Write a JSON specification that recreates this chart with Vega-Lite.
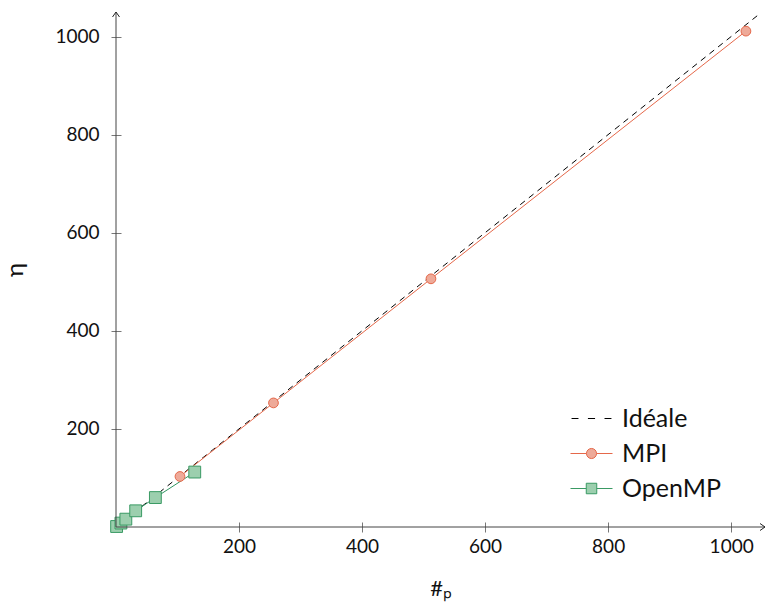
{
  "$schema": "https://vega.github.io/schema/vega-lite/v6.json",
  "width": 649,
  "height": 515,
  "autosize": {"type": "none"},
  "padding": {"left": 116, "top": 12, "right": 3, "bottom": 78},
  "background": "white",
  "config": {
    "view": {"stroke": null},
    "font": "Lato",
    "axis": {"grid": false, "labelColor": "#111", "titleColor": "#111", "tickColor": "#777", "titleFontWeight": "normal"},
    "legend": {"labelFont": "Lato"}
  },
  "datasets": {
    "ideal": [
      {"p": 0, "eta": 0},
      {"p": 1045, "eta": 1045}
    ],
    "measures": [
      {"series": "MPI", "p": 104, "eta": 103},
      {"series": "MPI", "p": 256, "eta": 253},
      {"series": "MPI", "p": 512, "eta": 506},
      {"series": "MPI", "p": 1024, "eta": 1011},
      {"series": "OpenMP", "p": 1, "eta": 1},
      {"series": "OpenMP", "p": 8, "eta": 8},
      {"series": "OpenMP", "p": 16, "eta": 16},
      {"series": "OpenMP", "p": 32, "eta": 33},
      {"series": "OpenMP", "p": 64, "eta": 60},
      {"series": "OpenMP", "p": 128, "eta": 112}
    ],
    "origin": [{"v": 0}],
    "xarrow": [{"p": 1055, "eta": 0}],
    "yarrow": [{"p": 0, "eta": 1050}]
  },
  "layer": [
    {
      "data": {"name": "ideal"},
      "mark": {"type": "line", "stroke": "#000", "strokeDash": [6, 5], "strokeWidth": 1},
      "encoding": {
        "x": {
          "field": "p", "type": "quantitative",
          "scale": {"domain": [0, 1055], "nice": false, "zero": false},
          "axis": {
            "values": [200, 400, 600, 800, 1000], "format": "d", "domain": false, "tickSize": 10, "offset": -5,
            "labelFontSize": 19, "labelPadding": 5, "labelFlush": false,
            "title": "#ₚ", "titleFontSize": 22, "titlePadding": 22
          }
        },
        "y": {
          "field": "eta", "type": "quantitative",
          "scale": {"domain": [0, 1050], "nice": false, "zero": false},
          "axis": {
            "values": [200, 400, 600, 800, 1000], "format": "d", "domain": false, "tickSize": 10, "offset": -5,
            "labelFontSize": 19, "labelPadding": 12, "labelFlush": false,
            "title": "η", "titleFontSize": 24, "titlePadding": 27
          }
        }
      }
    },
    {
      "data": {"name": "measures"},
      "mark": {"type": "line", "strokeWidth": 1},
      "encoding": {
        "x": {"field": "p", "type": "quantitative"},
        "y": {"field": "eta", "type": "quantitative"},
        "color": {
          "field": "series", "type": "nominal",
          "scale": {"domain": ["MPI", "OpenMP"], "range": ["#e5684a", "#2f9460"]},
          "legend": null
        }
      }
    },
    {
      "data": {"name": "measures"},
      "transform": [{"filter": "datum.series == 'MPI'"}],
      "mark": {"type": "point", "shape": "circle", "filled": true, "opacity": 1, "strokeWidth": 1, "size": 95},
      "encoding": {
        "x": {"field": "p", "type": "quantitative"},
        "y": {"field": "eta", "type": "quantitative"},
        "fill": {
          "field": "series", "type": "nominal",
          "scale": {"domain": ["Idéale", "MPI", "OpenMP"], "range": ["transparent", "#eeaa99", "#9ccfae"]}
        },
        "stroke": {
          "field": "series", "type": "nominal",
          "scale": {"domain": ["Idéale", "MPI", "OpenMP"], "range": ["#000000", "#e5684a", "#3a9a64"]}
        }
      }
    },
    {
      "data": {"name": "measures"},
      "transform": [{"filter": "datum.series == 'OpenMP'"}],
      "mark": {"type": "point", "shape": "square", "filled": true, "opacity": 1, "strokeWidth": 1, "size": 140},
      "encoding": {
        "x": {"field": "p", "type": "quantitative"},
        "y": {"field": "eta", "type": "quantitative"},
        "fill": {"field": "series", "type": "nominal"},
        "stroke": {"field": "series", "type": "nominal"}
      }
    },
    {
      "data": {"name": "measures"},
      "transform": [{"filter": "false"}],
      "mark": {"type": "point", "filled": true, "opacity": 1, "strokeWidth": 1, "size": 1764},
      "encoding": {
        "x": {"field": "p", "type": "quantitative"},
        "y": {"field": "eta", "type": "quantitative"},
        "fill": {"field": "series", "type": "nominal"},
        "stroke": {"field": "series", "type": "nominal"},
        "shape": {
          "field": "series", "type": "nominal",
          "scale": {
            "domain": ["Idéale", "MPI", "OpenMP"],
            "range": [
              "M-0.95,0H-0.62M-0.17,0H0.17M0.62,0H0.95",
              "M-1,0H-0.24M0.24,0H1M-0.24,0A0.24,0.24 0 1,0 0.24,0A0.24,0.24 0 1,0 -0.24,0Z",
              "M-1,0H-0.25M0.25,0H1M-0.25,-0.25H0.25V0.25H-0.25Z"
            ]
          },
          "legend": {
            "title": null,
            "orient": "none",
            "legendX": 454,
            "legendY": 389,
            "symbolSize": 1764,
            "symbolStrokeWidth": 1,
            "labelFontSize": 25,
            "labelColor": "#111",
            "labelOffset": 9,
            "clipHeight": 35,
            "rowPadding": 0,
            "symbolOpacity": 1
          }
        }
      }
    },
    {
      "data": {"name": "origin"},
      "mark": {"type": "rule", "stroke": "#444", "strokeWidth": 1},
      "encoding": {"x": {"field": "v", "type": "quantitative"}}
    },
    {
      "data": {"name": "origin"},
      "mark": {"type": "rule", "stroke": "#444", "strokeWidth": 1},
      "encoding": {"y": {"field": "v", "type": "quantitative"}}
    },
    {
      "data": {"name": "xarrow"},
      "mark": {"type": "point", "shape": "M-1,-0.7L0,0L-1,0.7", "size": 100, "filled": false, "stroke": "#222", "strokeWidth": 1, "opacity": 1},
      "encoding": {
        "x": {"field": "p", "type": "quantitative"},
        "y": {"field": "eta", "type": "quantitative"}
      }
    },
    {
      "data": {"name": "yarrow"},
      "mark": {"type": "point", "shape": "M-0.7,1L0,0L0.7,1", "size": 100, "filled": false, "stroke": "#222", "strokeWidth": 1, "opacity": 1},
      "encoding": {
        "x": {"field": "p", "type": "quantitative"},
        "y": {"field": "eta", "type": "quantitative"}
      }
    }
  ]
}
